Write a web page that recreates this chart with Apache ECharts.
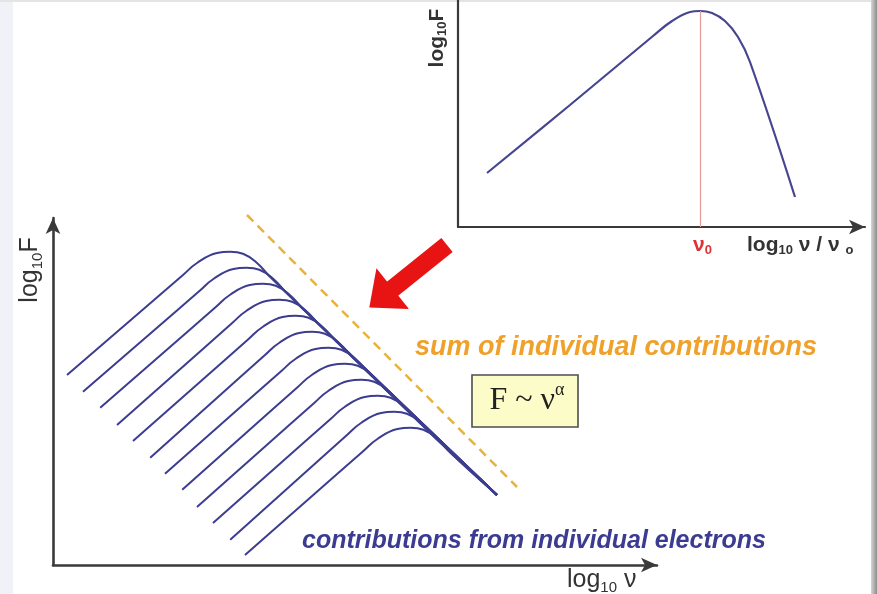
<!DOCTYPE html>
<html><head><meta charset="utf-8">
<script src="https://cdn.jsdelivr.net/npm/echarts@6/dist/echarts.min.js"></script>
<style>html,body{margin:0;padding:0;background:#fff}#c{width:877px;height:594px}</style>
</head><body><div id="c"></div>
<script>
// ---- data (main panel: x = log10 nu, y = log10 F, arbitrary units) ----
const curve01 = [[0.35,4.75],[3.25,7.25],[3.6,7.55],[4.1,7.8],[4.43,7.83],[4.75,7.78],[5.1,7.55],[5.43,7.2],[11.1,1.75]];
const curve02 = [[0.75,4.33],[3.66,6.85],[4.01,7.15],[4.51,7.4],[4.84,7.43],[5.16,7.38],[5.51,7.15],[5.84,6.8],[11.1,1.75]];
const curve03 = [[1.18,3.93],[4.07,6.45],[4.42,6.75],[4.92,7.0],[5.25,7.03],[5.57,6.98],[5.92,6.75],[6.25,6.4],[11.1,1.75]];
const curve04 = [[1.6,3.5],[4.48,6.05],[4.83,6.35],[5.33,6.6],[5.66,6.63],[5.98,6.58],[6.33,6.35],[6.66,6.0],[11.1,1.75]];
const curve05 = [[2.0,3.1],[4.89,5.65],[5.24,5.95],[5.74,6.2],[6.07,6.23],[6.39,6.18],[6.74,5.95],[7.07,5.6],[11.1,1.75]];
const curve06 = [[2.43,2.68],[5.3,5.25],[5.65,5.55],[6.15,5.8],[6.48,5.83],[6.8,5.78],[7.15,5.55],[7.48,5.2],[11.1,1.75]];
const curve07 = [[2.8,2.28],[5.71,4.85],[6.06,5.15],[6.56,5.4],[6.89,5.43],[7.21,5.38],[7.56,5.15],[7.89,4.8],[11.1,1.75]];
const curve08 = [[3.23,1.88],[6.12,4.45],[6.47,4.75],[6.97,5.0],[7.3,5.03],[7.62,4.98],[7.97,4.75],[8.3,4.4],[11.1,1.75]];
const curve09 = [[3.6,1.45],[6.53,4.05],[6.88,4.35],[7.38,4.6],[7.71,4.63],[8.03,4.58],[8.38,4.35],[8.71,4.0],[11.1,1.75]];
const curve10 = [[4.0,1.05],[6.94,3.65],[7.29,3.95],[7.79,4.2],[8.12,4.23],[8.44,4.18],[8.79,3.95],[9.12,3.6],[11.1,1.75]];
const curve11 = [[4.43,0.63],[7.35,3.25],[7.7,3.55],[8.2,3.8],[8.53,3.83],[8.85,3.78],[9.2,3.55],[9.53,3.2],[11.1,1.75]];
const curve12 = [[4.8,0.25],[7.76,2.85],[8.11,3.15],[8.61,3.4],[8.94,3.43],[9.26,3.38],[9.61,3.15],[9.94,2.8],[11.1,1.75]];
const electronCurves = [curve01,curve02,curve03,curve04,curve05,curve06,curve07,curve08,curve09,curve10,curve11,curve12];
const sumLine = [[4.85,8.75],[11.6,1.95]];
const arrowFrom = [9.85,8.0];
const arrowTo = [8.2,6.675];
const mainXRange = [0,15.1];
const mainYRange = [0,8.675];

// ---- data (inset: single electron spectrum, x = log10 nu/nu0) ----
const insetCurve = [[0.725,1.35],[2.8,3.05],[4.875,4.775],[5.35,5.15],[5.8,5.375],[6.05,5.4],[6.35,5.35],[6.675,5.15],[7.0,4.75],[7.3,4.125],[8.425,0.75]];
const nuZero = 6.05;
const nuZeroPeak = 5.4;
const insetXRange = [0,10.175];
const insetYRange = [0,5.675];

// ---- texts ----
const txtSum = 'sum of individual contributions';
const txtElectrons = 'contributions from individual electrons';

const blue = '#3d3d90';
const axisCol = '#3a3a3a';

function plainAxis(grid, range, withArrow, width){
  return {
    gridIndex: grid, type:'value', min: range[0], max: range[1],
    axisLine:{show:true, onZero:false, symbol: withArrow ? ['none','arrow'] : ['none','none'], symbolSize:[11,16],
      lineStyle:{color:axisCol, width:width}},
    axisTick:{show:false}, axisLabel:{show:false}, splitLine:{show:false}
  };
}

const series = electronCurves.map((c,i) => ({
  type:'line', xAxisIndex:0, yAxisIndex:0, data:c, smooth:0.45, symbol:'none',
  lineStyle:{color:blue, width:2}, silent:true, z:3
}));

series.push({
  type:'line', xAxisIndex:0, yAxisIndex:0, data:sumLine, symbol:'none', clip:false, silent:true, z:2,
  lineStyle:{color:'#e8b33c', width:2.5, type:[9,6]},
  markLine:{
    silent:true, symbol:['none','triangle'], symbolSize:[52,30], animation:false,
    label:{show:false},
    lineStyle:{color:'#e81414', width:18, type:'solid', cap:'butt'},
    emphasis:{disabled:true},
    data:[[{coord:arrowFrom},{coord:arrowTo}]]
  }
});

series.push({
  type:'line', xAxisIndex:1, yAxisIndex:1, data:insetCurve, smooth:0.4, symbol:'none', silent:true, z:3,
  lineStyle:{color:'#464690', width:2.2},
  markLine:{
    silent:true, symbol:['none','none'], animation:false, label:{show:false},
    lineStyle:{color:'#e79a9a', width:1.2, type:'solid'},
    emphasis:{disabled:true},
    data:[[{coord:[nuZero,0]},{coord:[nuZero,nuZeroPeak]}]]
  }
});

function rt(x,y,text,rich,extra){
  return Object.assign({type:'text', x:x, y:y, z:10, silent:true,
    style:{text:text, rich:rich, align:'left', textAlign:'left', verticalAlign:'middle', textVerticalAlign:'middle'}}, extra||{});
}
function centered(el){ el.style.align='center'; el.style.textAlign='center'; return el; }

const mainRich = {
  a:{fontFamily:'Liberation Sans',fontSize:25,fill:'#333',color:'#333',lineHeight:30,verticalAlign:'middle'},
  s:{fontFamily:'Liberation Sans',fontSize:15,fill:'#333',color:'#333',lineHeight:15,verticalAlign:'bottom'}
};
const insetRich = {
  a:{fontFamily:'Liberation Sans',fontWeight:'bold',fontSize:21,fill:'#333',color:'#333',lineHeight:24,verticalAlign:'middle'},
  s:{fontFamily:'Liberation Sans',fontWeight:'bold',fontSize:13,fill:'#333',color:'#333',lineHeight:13,verticalAlign:'bottom'}
};
const redRich = {
  a:{fontFamily:'Liberation Sans',fontWeight:'bold',fontSize:21,fill:'#dc3434',color:'#dc3434',lineHeight:24,verticalAlign:'middle'},
  s:{fontFamily:'Liberation Sans',fontWeight:'bold',fontSize:13,fill:'#dc3434',color:'#dc3434',lineHeight:13,verticalAlign:'bottom'}
};
const boxRich = {
  a:{fontFamily:'Liberation Serif',fontSize:32,fill:'#222',color:'#222',lineHeight:40,verticalAlign:'middle'},
  p:{fontFamily:'Liberation Serif',fontSize:18,fill:'#222',color:'#222',lineHeight:18,verticalAlign:'top'}
};

const graphic = [
  // page edges
  {type:'rect', shape:{x:0,y:0,width:13,height:594}, style:{fill:'#eff2f6'}, z:0, silent:true},
  {type:'rect', shape:{x:0,y:0,width:877,height:2}, style:{fill:'#e4e4e4'}, z:0, silent:true},
  {type:'rect', shape:{x:871,y:0,width:6,height:594}, style:{fill:new echarts.graphic.LinearGradient(0,0,1,0,[{offset:0,color:'#d6d6d6'},{offset:1,color:'#8c8c8c'}])}, z:0, silent:true},
  // main axis names
  centered(rt(30,270,'{a|log}{s|10}{a|F}',mainRich,{rotation:Math.PI/2})),
  rt(567,580,'{a|log}{s|10}{a| ν}',mainRich),
  // annotations
  {type:'text', x:415, y:348, z:10, silent:true, style:{text:txtSum,font:'italic bold 27px "Liberation Sans"',fill:'#efa12c',align:'left',textAlign:'left',verticalAlign:'middle',textVerticalAlign:'middle'}},
  {type:'text', x:302, y:541, z:10, silent:true, style:{text:txtElectrons,font:'italic bold 25px "Liberation Sans"',fill:'#3b3b92',align:'left',textAlign:'left',verticalAlign:'middle',textVerticalAlign:'middle'}},
  {type:'rect', shape:{x:472,y:375,width:106,height:52}, style:{fill:'#fcfcc8', stroke:'#4e4e4e', lineWidth:1.6}, z:9, silent:true},
  centered(rt(527,401,'{a|F ~ ν}{p|α}',boxRich)),
  // inset labels
  centered(rt(437,38,'{a|log}{s|10}{a|F}',insetRich,{rotation:Math.PI/2})),
  rt(693,245,'{a|ν}{s|0}',redRich),
  rt(747,245,'{a|log}{s|10}{a| ν / ν }{s|o}',insetRich)
];

const option = {
  animation:false,
  backgroundColor:'#ffffff',
  grid:[
    {left:53, right:220, top:218, bottom:29},
    {left:458, right:12, top:0, bottom:367}
  ],
  xAxis:[plainAxis(0,mainXRange,true,2.6), plainAxis(1,insetXRange,true,2.2)],
  yAxis:[plainAxis(0,mainYRange,true,2.6), plainAxis(1,insetYRange,false,2.2)],
  series:series,
  graphic:graphic
};

const chart = echarts.init(document.getElementById('c'), null, {renderer:'canvas'});
chart.setOption(option);
</script></body></html>
